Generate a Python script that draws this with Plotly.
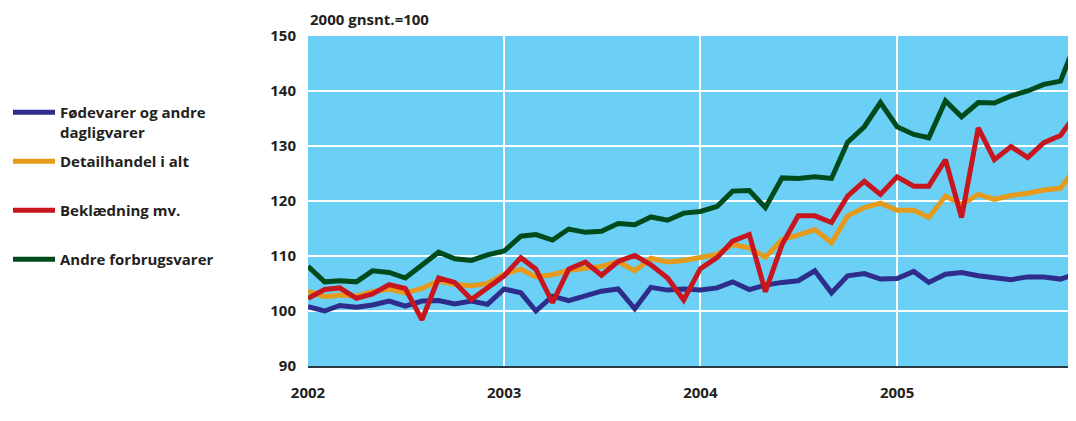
import pandas as pd
import plotly.graph_objects as go

# Monthly index, 2000 average = 100, Jan 2002 - Dec 2005
months = pd.date_range("2002-01-01", periods=48, freq="MS")

series_names = [
    "Fødevarer og andre<br>dagligvarer",
    "Detailhandel i alt",
    "Beklædning mv.",
    "Andre forbrugsvarer",
]

foedevarer = [
    100.8, 100.0, 101.0, 100.7, 101.1, 101.8, 100.9, 101.8, 101.9, 101.3, 101.8, 101.2,
    104.0, 103.3, 100.0, 102.7, 101.9, 102.7, 103.6, 104.0, 100.4, 104.3, 103.8, 104.0,
    103.8, 104.2, 105.3, 103.9, 104.7, 105.2, 105.5, 107.3, 103.3, 106.4, 106.8, 105.8,
    105.9, 107.2, 105.2, 106.7, 107.0, 106.4, 106.1, 105.7, 106.2, 106.2, 105.8, 106.8,
]
detailhandel = [
    103.6, 102.6, 102.9, 102.7, 103.5, 104.0, 103.3, 104.1, 105.5, 104.8, 104.6, 105.0,
    106.7, 107.6, 106.2, 106.6, 107.4, 107.8, 108.1, 109.0, 107.3, 109.6, 108.9, 109.2,
    109.7, 110.3, 112.1, 111.5, 109.8, 113.0, 113.8, 114.8, 112.4, 117.3, 118.8, 119.6,
    118.3, 118.3, 117.0, 120.9, 119.4, 121.2, 120.3, 121.0, 121.4, 122.0, 122.3, 126.4,
]
beklaedning = [
    102.3, 103.9, 104.2, 102.3, 103.1, 104.8, 104.1, 98.4, 106.0, 105.2, 102.1, 104.2,
    106.4, 109.7, 107.6, 101.5, 107.6, 108.9, 106.5, 109.0, 110.1, 108.4, 106.0, 102.0,
    107.7, 109.7, 112.7, 113.9, 103.5, 112.1, 117.3, 117.3, 116.1, 120.9, 123.6, 121.2,
    124.4, 122.7, 122.7, 127.5, 117.0, 133.3, 127.5, 129.9, 127.9, 130.6, 131.9, 136.0,
]
andre = [
    108.1, 105.3, 105.5, 105.3, 107.3, 107.0, 106.0, 108.3, 110.7, 109.5, 109.2, 110.2,
    110.9, 113.6, 113.9, 112.9, 114.9, 114.3, 114.5, 115.9, 115.7, 117.1, 116.5, 117.8,
    118.1, 119.0, 121.8, 121.9, 118.8, 124.2, 124.1, 124.4, 124.1, 130.7, 133.5, 137.9,
    133.5, 132.1, 131.5, 138.2, 135.3, 137.9, 137.8, 139.1, 140.0, 141.2, 141.8, 149.2,
]

colors = ["#2e2d8c", "#e59a1b", "#c8161e", "#004b1c"]
text_color = "#231f20"

# page body has an 8px margin, so the figure is drawn a bit smaller
W, H = 1068, 405

fig = go.Figure()

for i, (name, values) in enumerate(
    zip(series_names, [foedevarer, detailhandel, beklaedning, andre])
):
    # pad single-line names so every legend entry is two lines tall
    label = name if "<br>" in name else name + "<br>\u00a0"
    fig.add_trace(
        go.Scatter(
            x=months,
            y=values,
            mode="lines",
            name=label,
            legendgroup=str(i),
            line=dict(color=colors[i], width=5),
        )
    )

fig.update_layout(
    width=W,
    height=H,
    plot_bgcolor="#6bcff6",
    paper_bgcolor="white",
    margin=dict(l=300, r=8, t=28, b=H - 358),
    font=dict(family="Open Sans, sans-serif", size=15, color=text_color, weight="bold"),
    title=dict(
        text="2000 gnsnt.=100",
        xref="container",
        yref="container",
        x=302 / W,
        xanchor="left",
        y=1 - 12 / H,
        yanchor="middle",
        font=dict(size=15, color=text_color, weight="bold"),
    ),
    legend=dict(
        xref="container",
        yref="container",
        x=0,
        xanchor="left",
        y=1 - 88 / H,
        yanchor="top",
        valign="top",
        itemwidth=42,
        traceorder="grouped",
        tracegroupgap=7,
        bgcolor="rgba(0,0,0,0)",
        font=dict(size=15, color=text_color, weight="bold"),
    ),
    showlegend=True,
)

fig.update_xaxes(
    range=["2002-01-01", "2005-11-15"],
    tick0="2002-01-01",
    dtick="M12",
    tickformat="%Y",
    showgrid=True,
    gridcolor="white",
    gridwidth=2,
    zeroline=False,
    showline=True,
    linecolor="#2b3a42",
    linewidth=2,
    ticks="outside",
    ticklen=12,
    tickcolor="rgba(0,0,0,0)",
)

fig.update_yaxes(
    range=[90, 150],
    dtick=10,
    showgrid=True,
    gridcolor="white",
    gridwidth=2,
    zeroline=False,
    showline=False,
    ticks="outside",
    ticklen=8,
    tickcolor="rgba(0,0,0,0)",
)

fig.write_html("out.html", default_width="1068px", default_height="405px")
